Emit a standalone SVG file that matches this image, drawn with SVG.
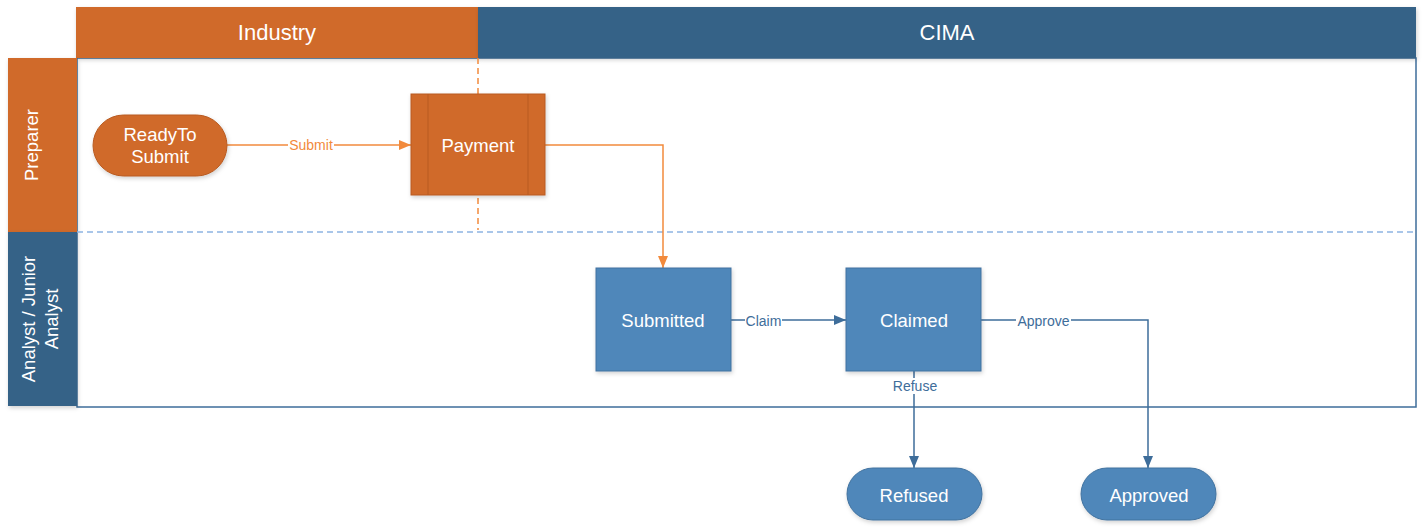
<svg xmlns="http://www.w3.org/2000/svg" width="1424" height="529" viewBox="0 0 1424 529">
<style>
text{font-family:"Liberation Sans",Arial,sans-serif;text-anchor:middle;dominant-baseline:central}
.hdr{font-size:22px;fill:#ffffff}
.lane{font-size:18.5px;fill:#ffffff}
.node{font-size:18.5px;fill:#ffffff}
.elab{font-size:14px}
.or{fill:#D06B2B;stroke:#B85A20;stroke-width:1}
.bl{fill:#4F87BA;stroke:#41729F;stroke-width:1}
.ce-o{fill:none;stroke:#F28A3C;stroke-width:1.5}
.ce-b{fill:none;stroke:#3E6D9A;stroke-width:1.5}
</style>
<defs>
<filter id="sh" x="-10%" y="-10%" width="130%" height="130%">
<feDropShadow dx="1" dy="2" stdDeviation="2" flood-color="#000" flood-opacity="0.18"/>
</filter>
<marker id="ao" markerWidth="12" markerHeight="10" refX="12" refY="5" orient="auto" markerUnits="userSpaceOnUse">
<path d="M0,0 L12,5 L0,10 Z" fill="#F28A3C"/>
</marker>
<marker id="ab" markerWidth="12" markerHeight="10" refX="12" refY="5" orient="auto" markerUnits="userSpaceOnUse">
<path d="M0,0 L12,5 L0,10 Z" fill="#3E6D9A"/>
</marker>
</defs>
<g id="pool">
<rect x="77" y="58" width="1339" height="349" fill="#ffffff" stroke="#3E6D9A" stroke-width="1.5"/>
<rect x="76" y="7" width="402" height="51" fill="#D06B2B" filter="url(#sh)"/>
<text class="hdr" x="277" y="32">Industry</text>
<rect x="478" y="7" width="938" height="51" fill="#366287" filter="url(#sh)"/>
<text class="hdr" x="947" y="32">CIMA</text>
<rect x="8" y="58" width="69" height="174" fill="#D06B2B" filter="url(#sh)"/>
<text class="lane" transform="translate(31,145) rotate(-90)">Preparer</text>
<rect x="8" y="232" width="69" height="174" fill="#366287" filter="url(#sh)"/>
<text class="lane" transform="translate(28,319) rotate(-90)">Analyst / Junior</text>
<text class="lane" transform="translate(51,319) rotate(-90)">Analyst</text>
<line x1="77" y1="232" x2="1416" y2="232" stroke="#8DB4E2" stroke-width="1.5" stroke-dasharray="6,4"/>
<line x1="478" y1="58" x2="478" y2="230" stroke="#F28A3C" stroke-width="1.5" stroke-dasharray="6,4"/>
</g>
<g id="connectors">
<path class="ce-o" d="M227,145 L411,145" marker-end="url(#ao)"/>
<rect x="288" y="138" width="46" height="14" fill="#ffffff"/>
<text class="elab" x="311" y="145" fill="#F28A3C">Submit</text>
<path class="ce-o" d="M545,145 L663,145 L663,268" marker-end="url(#ao)"/>
<path class="ce-b" d="M731,320 L846,320" marker-end="url(#ab)"/>
<rect x="745" y="313" width="37" height="14" fill="#ffffff"/>
<text class="elab" x="763.5" y="321" fill="#3E6D9A">Claim</text>
<path class="ce-b" d="M981,320 L1148,320 L1148,468" marker-end="url(#ab)"/>
<rect x="1016" y="313" width="55" height="14" fill="#ffffff"/>
<text class="elab" x="1043.5" y="321" fill="#3E6D9A">Approve</text>
<path class="ce-b" d="M914,371 L914,468" marker-end="url(#ab)"/>
<rect x="890" y="378" width="50" height="16" fill="#ffffff"/>
<text class="elab" x="915" y="386" fill="#3E6D9A">Refuse</text>
</g>
<g id="ReadyToSubmit">
<rect class="or" x="93" y="115" width="134" height="61" rx="30.5" filter="url(#sh)"/>
<text class="node" x="160" y="134">ReadyTo</text>
<text class="node" x="160" y="156">Submit</text>
</g>
<g id="Payment">
<rect class="or" x="411" y="94" width="134" height="101" filter="url(#sh)"/>
<line x1="428" y1="94" x2="428" y2="195" stroke="#B85A20"/>
<line x1="528" y1="94" x2="528" y2="195" stroke="#B85A20"/>
<text class="node" x="478" y="145">Payment</text>
</g>
<g id="Submitted">
<rect class="bl" x="596" y="268" width="135" height="103" filter="url(#sh)"/>
<text class="node" x="663" y="320">Submitted</text>
</g>
<g id="Claimed">
<rect class="bl" x="846" y="268" width="135" height="103" filter="url(#sh)"/>
<text class="node" x="914" y="320">Claimed</text>
</g>
<g id="Refused">
<rect class="bl" x="847" y="468" width="135" height="52" rx="26" filter="url(#sh)"/>
<text class="node" x="914" y="495">Refused</text>
</g>
<g id="Approved">
<rect class="bl" x="1081" y="468" width="135" height="52" rx="26" filter="url(#sh)"/>
<text class="node" x="1149" y="495">Approved</text>
</g>
</svg>
